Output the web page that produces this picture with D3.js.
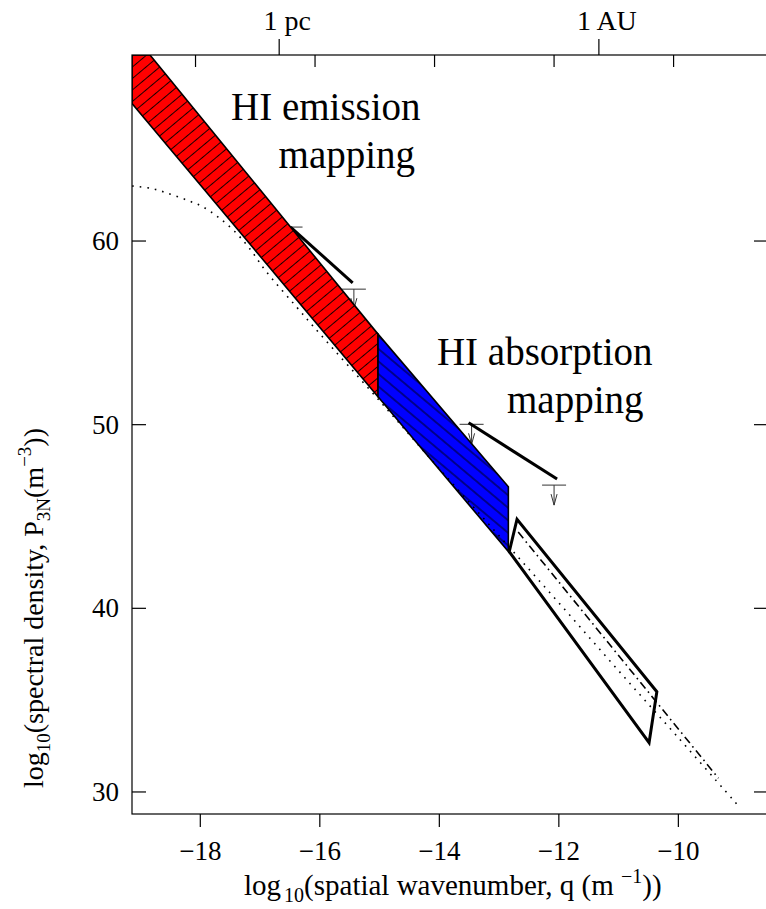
<!DOCTYPE html>
<html><head><meta charset="utf-8">
<script src="https://cdn.jsdelivr.net/npm/d3@7"></script>
<style>
body{margin:0;background:#fff}
svg{display:block}
text{font-family:"Liberation Serif","Times New Roman",serif;fill:#000}
</style>
</head><body>
<svg id="c" width="766" height="909"></svg>
<script>
// ---------- data ----------
const xTicks = [-18, -16, -14, -12, -10];
const yTicks = [30, 40, 50, 60];
const topTickLabels = ["1 pc", "1 AU"];
const topTickValues = [-16.68, -11.33];
const topMinorTicks = [-18.08, -16.08, -14.08, -12.08, -10.08];

const emissionQ = [-19.143, -18.842, -15.026, -15.026, -19.143];
const emissionP = [70.13, 70.13, 54.93, 51.52, 67.49];
const absorptionQ = [-15.026, -12.845, -12.845, -15.026];
const absorptionP = [54.93, 46.62, 43.09, 51.52];
const boxQ = [-12.83, -12.70, -10.36, -10.49];
const boxP = [43.08, 44.85, 35.46, 32.68];

const modelQ = [-19.14, -18.8, -18.5, -18.2, -17.95, -17.7, -17.45, -17.2, -16.9, -16.4, -16.0, -15.0, -14.0, -13.0, -12.0, -11.0, -10.0, -8.97];
const modelP = [63.0, 62.85, 62.55, 62.2, 61.85, 61.3, 60.6, 59.7, 58.35, 56.45, 54.95, 51.3, 47.6, 43.95, 40.3, 36.6, 32.95, 29.15];

const steepQ = [-12.68, -9.33];
const steepP = [44.15, 30.75];

const limitQ = [-16.49, -15.43, -13.46, -12.08];
const limitP = [60.76, 57.38, 50.02, 46.71];
const limitLine1Q = [-16.49, -15.45];
const limitLine1P = [60.76, 57.72];
const limitLine2Q = [-13.51, -12.03];
const limitLine2P = [50.10, 47.04];

// ---------- layout ----------
const L = 132, R = 768, T = 55, B = 814;
const x = d3.scaleLinear().domain([-19.143, -8.50]).range([L, R]);
const y = d3.scaleLinear().domain([28.80, 70.13]).range([B, T]);

const svg = d3.select("#c");
const defs = svg.append("defs");
defs.append("clipPath").attr("id", "plot")
  .append("rect").attr("x", L).attr("y", T).attr("width", R - L).attr("height", B - T);

function hatch(id, color, spacing, angle) {
  const p = defs.append("pattern").attr("id", id)
    .attr("patternUnits", "userSpaceOnUse")
    .attr("width", 40).attr("height", spacing)
    .attr("patternTransform", `rotate(${angle})`);
  p.append("rect").attr("width", 40).attr("height", spacing).attr("fill", color);
  p.append("line").attr("x1", 0).attr("x2", 40).attr("y1", spacing / 2).attr("y2", spacing / 2)
    .attr("stroke", "#000").attr("stroke-width", 0.9);
}
hatch("hr", "#ff0000", 8.8, -40);
hatch("hb", "#0000ff", 9.6, 40);

const pts = (qs, ps) => qs.map((q, i) => [x(q), y(ps[i])]);
const poly = (qs, ps) => "M" + pts(qs, ps).map(p => p.join(",")).join("L") + "Z";
const line = d3.line();
const curve = d3.line().curve(d3.curveCatmullRom.alpha(0.5));

const g = svg.append("g").attr("clip-path", "url(#plot)");

// upper limits
limitQ.forEach((q, i) => {
  const cx = x(q), cy = y(limitP[i]);
  const s = g.append("g").attr("stroke", "#333").attr("stroke-width", 1).attr("fill", "none");
  s.append("line").attr("x1", cx - 12).attr("x2", cx + 12).attr("y1", cy).attr("y2", cy);
  s.append("line").attr("x1", cx).attr("x2", cx).attr("y1", cy).attr("y2", cy + 20);
  s.append("path").attr("d", `M${cx - 3},${cy + 9}L${cx},${cy + 20}L${cx + 3},${cy + 9}`);
});
g.append("path").attr("d", line(pts(limitLine1Q, limitLine1P)))
  .attr("stroke", "#000").attr("stroke-width", 3).attr("fill", "none");
g.append("path").attr("d", line(pts(limitLine2Q, limitLine2P)))
  .attr("stroke", "#000").attr("stroke-width", 3).attr("fill", "none");

// bands
g.append("path").attr("d", poly(emissionQ, emissionP))
  .attr("fill", "url(#hr)").attr("stroke", "#000").attr("stroke-width", 1.6).attr("stroke-linejoin", "miter");
g.append("path").attr("d", poly(absorptionQ, absorptionP))
  .attr("fill", "url(#hb)").attr("stroke", "#000").attr("stroke-width", 1.6);
g.append("path").attr("d", poly(boxQ, boxP))
  .attr("fill", "none").attr("stroke", "#000").attr("stroke-width", 3).attr("stroke-linejoin", "miter");

// model lines
g.append("path").attr("d", curve(pts(modelQ, modelP)))
  .attr("fill", "none").attr("stroke", "#000").attr("stroke-width", 1.6).attr("stroke-dasharray", "1.6 6");
g.append("path").attr("d", line(pts(steepQ, steepP)))
  .attr("fill", "none").attr("stroke", "#000").attr("stroke-width", 1.6).attr("stroke-dasharray", "8 4 1.6 4");

// frame
const ax = svg.append("g").attr("stroke", "#000").attr("stroke-width", 1.2).attr("fill", "none");
ax.append("rect").attr("x", L).attr("y", T).attr("width", R - L).attr("height", B - T);
xTicks.forEach(v => ax.append("line").attr("x1", x(v)).attr("x2", x(v)).attr("y1", B).attr("y2", B + 13));
topMinorTicks.forEach(v => ax.append("line").attr("x1", x(v)).attr("x2", x(v)).attr("y1", T).attr("y2", T + 12));
topTickValues.forEach(v => ax.append("line").attr("x1", x(v)).attr("x2", x(v)).attr("y1", T).attr("y2", T - 16));
yTicks.forEach(v => {
  ax.append("line").attr("x1", L).attr("x2", L + 14).attr("y1", y(v)).attr("y2", y(v));
  ax.append("line").attr("x1", R - 14).attr("x2", R).attr("y1", y(v)).attr("y2", y(v));
});

// tick labels
const fs = 27;
xTicks.forEach(v => svg.append("text").attr("x", x(v)).attr("y", 859.5)
  .attr("text-anchor", "middle").attr("font-size", fs).text("\u2212" + Math.abs(v)));
yTicks.forEach(v => svg.append("text").attr("x", 119).attr("y", y(v) + 9)
  .attr("text-anchor", "end").attr("font-size", fs).text(v));
topTickValues.forEach((v, i) => svg.append("text").attr("x", x(v) + 8).attr("y", 30)
  .attr("text-anchor", "middle").attr("font-size", 28).text(topTickLabels[i]));

// axis titles
const xt = svg.append("text").attr("x", 244).attr("y", 895).attr("font-size", 29);
xt.append("tspan").text("log");
xt.append("tspan").attr("font-size", 20).attr("dx", 3).attr("dy", 7).text("10");
xt.append("tspan").attr("dy", -7).text("(spatial wavenumber, q (m ");
xt.append("tspan").attr("font-size", 20).attr("dy", -12).text("\u22121");
xt.append("tspan").attr("dy", 12).text("))");

const yt = svg.append("text").attr("transform", "translate(43,788) rotate(-90)").attr("font-size", 28);
yt.append("tspan").text("log");
yt.append("tspan").attr("font-size", 19).attr("dy", 7).text("10");
yt.append("tspan").attr("dy", -7).text("(spectral density, P");
yt.append("tspan").attr("font-size", 19).attr("dy", 7).text("3N");
yt.append("tspan").attr("dy", -7).text("(m");
yt.append("tspan").attr("font-size", 19).attr("dy", -12).text("\u22123");
yt.append("tspan").attr("dy", 12).text("))");

// annotations
const ann = [["HI emission", -17.486, 66.58], ["mapping", -16.69, 63.95],
             ["HI absorption", -14.04, 53.24], ["mapping", -12.867, 50.61]];
ann.forEach(a => svg.append("text").attr("x", x(a[1])).attr("y", y(a[2]))
  .attr("font-size", 39).text(a[0]));
</script>
</body></html>
